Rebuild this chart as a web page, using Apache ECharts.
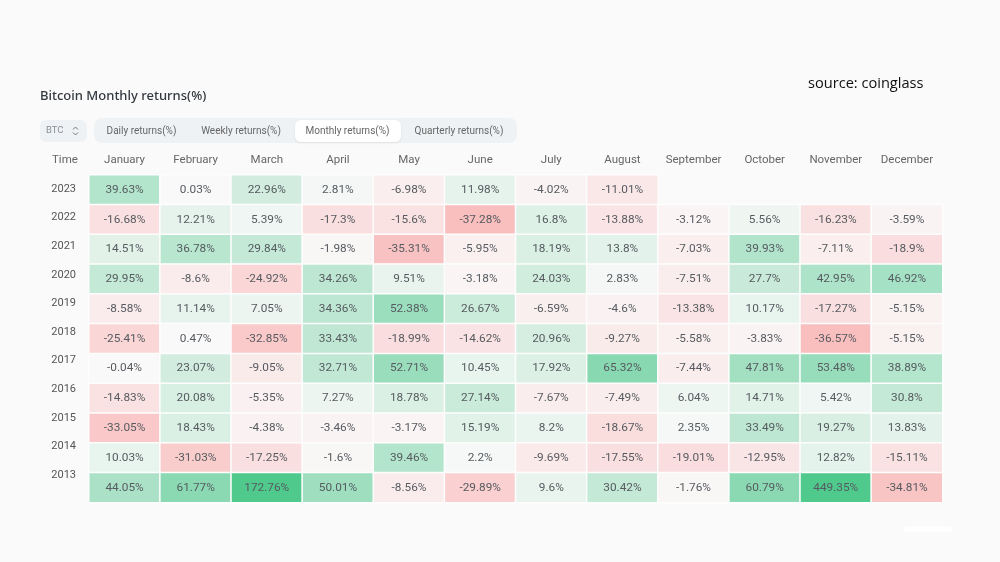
<!DOCTYPE html>
<html><head><meta charset="utf-8">
<style>html,body{margin:0;padding:0;background:#fafafa}#c{width:1000px;height:562px}</style>
<script src="https://cdn.jsdelivr.net/npm/echarts@6/dist/echarts.min.js"></script>
</head><body><div id="c"></div>
<script>
const months = ['January','February','March','April','May','June','July','August','September','October','November','December'];
const years = ['2023','2022','2021','2020','2019','2018','2017','2016','2015','2014','2013'];
const r2023 = [39.63,0.03,22.96,2.81,-6.98,11.98,-4.02,-11.01,null,null,null,null];
const r2022 = [-16.68,12.21,5.39,-17.3,-15.6,-37.28,16.8,-13.88,-3.12,5.56,-16.23,-3.59];
const r2021 = [14.51,36.78,29.84,-1.98,-35.31,-5.95,18.19,13.8,-7.03,39.93,-7.11,-18.9];
const r2020 = [29.95,-8.6,-24.92,34.26,9.51,-3.18,24.03,2.83,-7.51,27.7,42.95,46.92];
const r2019 = [-8.58,11.14,7.05,34.36,52.38,26.67,-6.59,-4.6,-13.38,10.17,-17.27,-5.15];
const r2018 = [-25.41,0.47,-32.85,33.43,-18.99,-14.62,20.96,-9.27,-5.58,-3.83,-36.57,-5.15];
const r2017 = [-0.04,23.07,-9.05,32.71,52.71,10.45,17.92,65.32,-7.44,47.81,53.48,38.89];
const r2016 = [-14.83,20.08,-5.35,7.27,18.78,27.14,-7.67,-7.49,6.04,14.71,5.42,30.8];
const r2015 = [-33.05,18.43,-4.38,-3.46,-3.17,15.19,8.2,-18.67,2.35,33.49,19.27,13.83];
const r2014 = [10.03,-31.03,-17.25,-1.6,39.46,2.2,-9.69,-17.55,-19.01,-12.95,12.82,-15.11];
const r2013 = [44.05,61.77,172.76,50.01,-8.56,-29.89,9.6,30.42,-1.76,60.79,449.35,-34.81];
const rows = [r2023,r2022,r2021,r2020,r2019,r2018,r2017,r2016,r2015,r2014,r2013];
const tabs = ['Daily returns(%)','Weekly returns(%)','Monthly returns(%)','Quarterly returns(%)'];

const greenStops = [[0,[249,249,249]],[5,[240,246,243]],[15,[225,242,233]],[30,[197,233,215]],[45,[169,226,198]],[60,[139,217,179]],[172,[79,202,140]],[450,[79,202,140]]];
const redStops = [[0,[249,249,249]],[5,[250,241,241]],[15,[250,226,227]],[30,[250,208,208]],[37,[249,190,190]],[100,[249,190,190]]];
function colorFor(v){
  const s = v >= 0 ? greenStops : redStops, a = Math.abs(v);
  for (let i = 1; i < s.length; i++) {
    if (a <= s[i][0]) {
      const t = (a - s[i-1][0]) / (s[i][0] - s[i-1][0]);
      const c = s[i-1][1].map((x, k) => Math.round(x + (s[i][1][k] - x) * t));
      return 'rgb(' + c.join(',') + ')';
    }
  }
  return 'rgb(' + s[s.length-1][1].join(',') + ')';
}
const cells = [];
rows.forEach((row, y) => row.forEach((v, x) => {
  if (v !== null) cells.push({ value: [x, y, v], itemStyle: { color: colorFor(v) } });
}));
const font = 'Roboto';
const tabX = [141.5, 241, 347.5, 459];
const chart = echarts.init(document.getElementById('c'), null, { renderer: 'canvas' });
chart.setOption({
  animation: false,
  backgroundColor: '#fafafa',
  grid: [
    { left: 89, top: 175, width: 853.5, height: 327.5 },
    { left: 40, top: 174.7, width: 49, height: 314.6 }
  ],
  xAxis: [
    { type: 'category', gridIndex: 0, position: 'top', data: months, axisLine: { show: false }, axisTick: { show: false }, splitLine: { show: false },
      axisLabel: { interval: 0, color: '#666', fontFamily: font, fontSize: 11.5, margin: 9 } },
    { type: 'category', gridIndex: 1, show: false, data: [''] }
  ],
  yAxis: [
    { type: 'category', gridIndex: 0, inverse: true, data: years, axisLine: { show: false }, axisTick: { show: false }, axisLabel: { show: false }, splitLine: { show: false } },
    { type: 'category', gridIndex: 1, inverse: true, position: 'right', data: years, axisLine: { show: false }, axisTick: { show: false }, splitLine: { show: false },
      axisLabel: { inside: true, align: 'right', color: '#555', fontFamily: font, fontSize: 11, margin: 13 } }
  ],
  series: [{
    type: 'heatmap', xAxisIndex: 0, yAxisIndex: 0, data: cells,
    itemStyle: { borderColor: '#fdfdfd', borderWidth: 1.5 },
    label: { show: true, color: '#565b60', fontFamily: font, fontSize: 11.8,
      formatter: p => p.value[2] + '%' },
    emphasis: { disabled: true }
  }],
  graphic: [
    { type: 'text', left: 40, top: 90, style: { text: 'Bitcoin Monthly returns(%)', fill: '#33383e', font: '500 13px "Noto Sans"' } },
    { type: 'text', left: 808, top: 76, style: { text: 'source: coinglass', fill: '#111', font: '14.6px "Open Sans"' } },
    { type: 'text', left: 52, top: 154, style: { text: 'Time', fill: '#666', font: '11.5px Roboto' } },
    { type: 'rect', shape: { x: 40, y: 120, width: 47, height: 22, r: 6 }, style: { fill: '#eff2f5' } },
    { type: 'text', left: 46, top: 126, style: { text: 'BTC', fill: '#8a9097', font: '9.5px Roboto' } },
    { type: 'polyline', shape: { points: [[73, 129.5], [75.5, 127], [78, 129.5]] }, style: { stroke: '#777', lineWidth: 1, fill: 'none' } },
    { type: 'polyline', shape: { points: [[73, 132.5], [75.5, 135], [78, 132.5]] }, style: { stroke: '#777', lineWidth: 1, fill: 'none' } },
    { type: 'rect', shape: { x: 94, y: 118, width: 423, height: 25, r: 8 }, style: { fill: '#eff2f5' } },
    { type: 'rect', shape: { x: 295, y: 120, width: 106, height: 22, r: 6 }, style: { fill: '#fff', shadowBlur: 3, shadowColor: 'rgba(0,0,0,0.08)', shadowOffsetY: 1 } },
    ...tabs.map((t, i) => ({ type: 'text', x: tabX[i], y: 131, style: { text: t, fill: '#666', font: '10px Roboto', align: 'center', verticalAlign: 'middle' } })),
    { type: 'rect', shape: { x: 904, y: 526, width: 48, height: 6, r: 3 }, style: { fill: 'rgba(255,255,255,0.8)' } }
  ]
});
</script></body></html>
